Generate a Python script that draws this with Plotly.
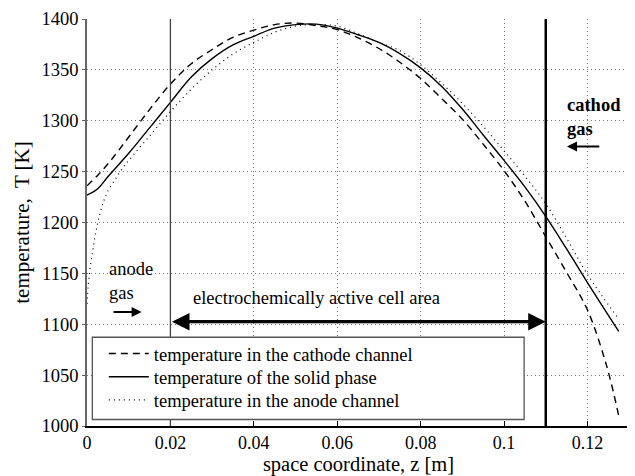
import plotly.graph_objects as go

# ---- data ----
z_solid = [0, 0.0025, 0.005, 0.01, 0.015, 0.02, 0.025, 0.03, 0.035, 0.04, 0.045, 0.05, 0.055,
           0.06, 0.065, 0.07, 0.075, 0.08, 0.085, 0.09, 0.095, 0.1, 0.105, 0.11, 0.115, 0.12, 0.1275]
T_solid = [1227, 1233, 1245, 1268, 1293, 1318, 1343, 1361, 1374.5, 1383, 1391, 1394.5, 1395,
           1391, 1384.5, 1377, 1366, 1352, 1334, 1311.5, 1286, 1261, 1235, 1206, 1174, 1141, 1093]

z_cath = [0, 0.0027, 0.0055, 0.01, 0.015, 0.02, 0.025, 0.03, 0.035, 0.04, 0.045, 0.05, 0.055,
          0.06, 0.065, 0.07, 0.075, 0.08, 0.085, 0.09, 0.095, 0.1, 0.105, 0.11, 0.115, 0.12,
          0.1246, 0.1275]
T_cath = [1236, 1247, 1260, 1284, 1311, 1336, 1356, 1370, 1382, 1389, 1394.5, 1396, 1393.5,
          1389.5, 1381.5, 1371, 1357.5, 1341.5, 1322, 1301.5, 1277, 1251, 1221, 1186, 1151, 1114,
          1059, 1010]

z_anode = [0, 0.0003, 0.0007, 0.0013, 0.002, 0.003, 0.004, 0.005, 0.0067, 0.0083, 0.01,
           0.015, 0.02, 0.025, 0.03, 0.035, 0.04, 0.045, 0.05, 0.055, 0.06, 0.065, 0.07,
           0.075, 0.08, 0.085, 0.09, 0.095, 0.1, 0.105, 0.11, 0.115, 0.12, 0.1275]
T_anode = [1120, 1138, 1154, 1170, 1188, 1207, 1221, 1231, 1242, 1252, 1261,
           1285, 1309, 1331, 1350, 1365.5, 1377, 1387, 1393, 1394.5, 1393, 1385.5, 1377,
           1369, 1355, 1337, 1317, 1294.5, 1270.5, 1245.5, 1218.5, 1184.5, 1149, 1105]

x_ticks = [0, 0.02, 0.04, 0.06, 0.08, 0.1, 0.12]
x_tick_labels = ["0", "0.02", "0.04", "0.06", "0.08", "0.1", "0.12"]
y_ticks = [1000, 1050, 1100, 1150, 1200, 1250, 1300, 1350, 1400]

active_start, active_end = 0.02, 0.11

FONT = "Liberation Serif"

fig = go.Figure()
fig.add_trace(go.Scatter(x=z_cath, y=T_cath, mode="lines", name="temperature in the cathode channel",
                         legend="legend",
                         line=dict(color="black", width=1.4, dash="7px,5px", shape="spline", smoothing=1)))
fig.add_trace(go.Scatter(x=z_solid, y=T_solid, mode="lines", name="temperature of the solid phase",
                         legend="legend2",
                         line=dict(color="black", width=1.4, shape="spline", smoothing=1)))
fig.add_trace(go.Scatter(x=z_anode, y=T_anode, mode="lines", name="temperature in the anode channel",
                         legend="legend3",
                         line=dict(color="black", width=1.2, dash="1px,4px", shape="spline", smoothing=1)))

shapes = [
    dict(type="line", xref="x", yref="y", x0=active_start, x1=active_start, y0=1000, y1=1400,
         line=dict(color="#444", width=1.3), layer="above"),
    dict(type="line", xref="x", yref="y", x0=active_end, x1=active_end, y0=1000, y1=1400,
         line=dict(color="black", width=2.5), layer="above"),
    dict(type="rect", xref="paper", yref="paper", x0=0.0098, x1=0.805, y0=0.016, y1=0.218,
         fillcolor="white", line=dict(color="#555", width=1.3), layer="above"),
]

ANN_FONT = dict(family=FONT, size=18.5, color="black")
annotations = [
    dict(x=0.055, y=1126, xref="x", yref="y", text="electrochemically active cell area",
         showarrow=False, font=ANN_FONT),
    dict(x=active_end, y=1102.5, ax=active_start, ay=1102.5, xref="x", yref="y", axref="x", ayref="y",
         text="", showarrow=True, arrowhead=2, arrowside="end+start", arrowwidth=3.2, arrowsize=1.1,
         arrowcolor="black", standoff=0, startstandoff=0),
    dict(x=0.0048, y=1142.6, xref="x", yref="y", text="anode<br>gas", xanchor="left", align="left",
         showarrow=False, font=ANN_FONT),
    dict(x=0.0131, y=1112, ax=0.006, ay=1112, xref="x", yref="y", axref="x", ayref="y",
         text="", showarrow=True, arrowhead=2, arrowwidth=2, arrowsize=1, arrowcolor="black"),
    dict(x=0.1147, y=1304, xref="x", yref="y", text="<b>cathod<br>gas</b>", xanchor="left", align="left",
         showarrow=False, font=ANN_FONT),
    dict(x=0.1151, y=1274.6, ax=0.1232, ay=1274.6, xref="x", yref="y", axref="x", ayref="y",
         text="", showarrow=True, arrowhead=2, arrowwidth=2, arrowsize=1, arrowcolor="black"),
]

LEG = dict(x=0.031, xanchor="left", yanchor="middle", bgcolor="rgba(0,0,0,0)",
           borderwidth=0, font=dict(family=FONT, size=18.5, color="black"), itemwidth=40)

fig.update_layout(
    width=627, height=468,
    margin=dict(l=79, r=5, t=11, b=49.5, autoexpand=False),
    paper_bgcolor="white", plot_bgcolor="white",
    font=dict(family=FONT, size=18.5, color="black"),
    shapes=shapes, annotations=annotations,
    showlegend=True,
    legend=dict(LEG, y=0.177),
    legend2=dict(LEG, y=0.120),
    legend3=dict(LEG, y=0.063),
)
fig.update_xaxes(range=[0, 0.1302], tickvals=x_ticks, ticktext=x_tick_labels,
                 tickfont=dict(family=FONT, size=18),
                 showgrid=True, gridcolor="#777", griddash="1px,3px", gridwidth=1,
                 showline=True, linecolor="black", linewidth=1.5,
                 ticks="inside", ticklen=5, tickcolor="black", zeroline=False,
                 title=dict(text="space coordinate, z [m]", font=dict(family=FONT, size=20.5), standoff=4))
fig.update_yaxes(range=[1000, 1400], tickvals=y_ticks,
                 showgrid=True, gridcolor="#777", griddash="1px,3px", gridwidth=1,
                 showline=True, linecolor="#666", linewidth=1.8,
                 ticks="outside", ticklen=3, tickcolor="#666", zeroline=False,
                 title=dict(text="temperature,  T [K]", font=dict(family=FONT, size=21), standoff=6))

fig.write_html("out.html")
